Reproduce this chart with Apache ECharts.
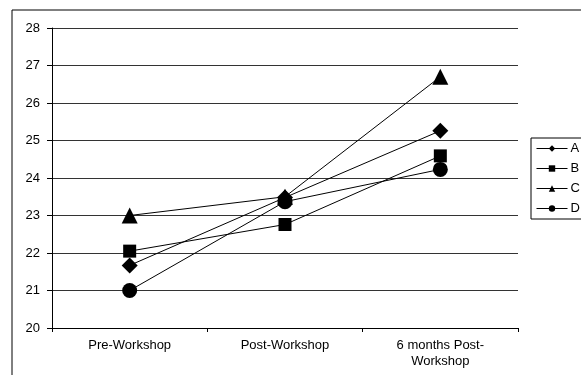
<!DOCTYPE html>
<html>
<head>
<meta charset="utf-8">
<script src="https://cdn.jsdelivr.net/npm/echarts@6/dist/echarts.min.js"></script>
<style>html,body{margin:0;padding:0;background:#fff}#c{width:581px;height:375px}</style>
</head>
<body>
<div id="c"></div>
<script>
var categories = ['Pre-Workshop', 'Post-Workshop', '6 months Post-\nWorkshop'];
var seriesNames = ['A', 'B', 'C', 'D'];
var valuesA = [21.67, 23.48, 25.26];
var valuesB = [22.05, 22.76, 24.59];
var valuesC = [23.0, 23.5, 26.7];
var valuesD = [21.0, 23.37, 24.23];
var symbols = ['diamond', 'rect', 'triangle', 'circle'];
var symbolSizes = [16, 13, 16, 15];
var yTicks = [20, 21, 22, 23, 24, 25, 26, 27, 28];

var allValues = [valuesA, valuesB, valuesC, valuesD];
var font = '"Liberation Sans", Arial, sans-serif';
var chart = echarts.init(document.getElementById('c'), null, {renderer: 'canvas'});
chart.setOption({
  animation: false,
  backgroundColor: '#fff',
  graphic: [{
    type: 'rect', left: 9.5, top: 7.5, shape: {x: 0, y: 0, width: 620, height: 420},
    style: {fill: 'none', stroke: '#000', lineWidth: 1}, z: -1
  }],
  grid: {left: 52, right: 63, top: 28, bottom: 47, containLabel: false},
  legend: {
    orient: 'vertical', left: 531, top: 138,
    data: seriesNames,
    borderColor: '#000', borderWidth: 1,
    padding: [4, 30, 4, 5],
    itemWidth: 31, itemHeight: 8, itemGap: 7,
    lineStyle: {width: 1, color: '#000'},
    textStyle: {fontFamily: font, fontSize: 13, color: '#000', lineHeight: 13, padding: [0, 0, 0, -2]}
  },
  xAxis: {
    type: 'category', data: categories, boundaryGap: true,
    axisLine: {lineStyle: {color: '#000', width: 1}},
    axisTick: {show: true, length: 4, lineStyle: {color: '#000'}},
    axisLabel: {fontFamily: font, fontSize: 13, color: '#000', margin: 9, lineHeight: 16, interval: 0}
  },
  yAxis: {
    type: 'value', min: yTicks[0], max: yTicks[yTicks.length - 1], interval: 1,
    axisLine: {show: true, lineStyle: {color: '#000', width: 1}},
    axisTick: {show: true, length: 5, lineStyle: {color: '#000'}},
    axisLabel: {fontFamily: font, fontSize: 13, color: '#000', margin: 12},
    splitLine: {show: true, lineStyle: {color: '#333', width: 1}}
  },
  series: seriesNames.map(function (n, i) {
    return {
      name: n, type: 'line', data: allValues[i],
      symbol: symbols[i], symbolSize: symbolSizes[i],
      lineStyle: {color: '#000', width: 1},
      itemStyle: {color: '#000', borderWidth: 0},
      emphasis: {disabled: true}
    };
  })
});
</script>
</body>
</html>
